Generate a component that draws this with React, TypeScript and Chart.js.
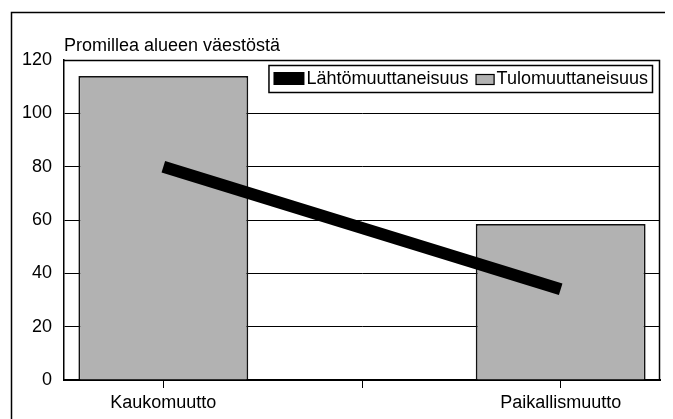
import { useEffect, useRef } from 'react';
import { Chart, registerables } from 'chart.js';

Chart.register(...registerables);

const categories = ['Kaukomuutto', '', 'Paikallismuutto'];
const tuloValues = [114, null, 58.5];
const lahtoValues = [80, null, 34];
const yTicks = [0, 20, 40, 60, 80, 100, 120];
const yTitle = 'Promillea alueen väestöstä';
const seriesNames = ['Lähtömuuttaneisuus', 'Tulomuuttaneisuus'];

const FONT = '"Liberation Sans", Arial, sans-serif';
const FS = 18;
const BAR_GRAY = '#b2b2b2';

const decor = {
  id: 'decor',
  beforeDraw(chart: any) {
    const { ctx, width, height } = chart;
    ctx.save();
    ctx.fillStyle = '#fff';
    ctx.fillRect(0, 0, width, height);
    ctx.strokeStyle = '#000';
    ctx.lineWidth = 1.5;
    ctx.beginPath();
    ctx.moveTo(3.5, height);
    ctx.lineTo(3.5, 4.5);
    ctx.lineTo(width, 4.5);
    ctx.stroke();
    ctx.restore();
  },
  afterDraw(chart: any) {
    const { ctx, chartArea: a } = chart;
    ctx.save();
    ctx.strokeStyle = '#000';
    ctx.lineWidth = 1.5;
    ctx.beginPath();
    ctx.moveTo(a.left, a.top + 0.5);
    ctx.lineTo(a.right - 0.5, a.top + 0.5);
    ctx.lineTo(a.right - 0.5, a.bottom);
    ctx.stroke();

    ctx.font = `${FS}px ${FONT}`;
    ctx.fillStyle = '#000';
    ctx.textBaseline = 'middle';
    ctx.textAlign = 'left';
    ctx.fillText(yTitle, a.left, a.top - 14);

    const w1 = ctx.measureText(seriesNames[0]).width;
    const w2 = ctx.measureText(seriesNames[1]).width;
    const total = 5 + 31 + 2 + w1 + 7 + 19 + 2 + w2 + 5;
    const right = a.right - 7;
    const left = right - total;
    const top = a.top + 5;
    const h = 28;
    ctx.fillStyle = '#fff';
    ctx.fillRect(left, top, total, h);
    ctx.lineWidth = 1.5;
    ctx.strokeStyle = '#000';
    ctx.strokeRect(left + 0.5, top + 0.5, total - 1, h - 1);
    let x = left + 5;
    ctx.fillStyle = '#000';
    ctx.fillRect(x, top + 7, 31, 13);
    x += 31 + 2;
    ctx.fillText(seriesNames[0], x, top + h / 2 + 0.5);
    x += w1 + 7;
    ctx.fillStyle = BAR_GRAY;
    ctx.fillRect(x, top + 9, 19, 11);
    ctx.lineWidth = 1.2;
    ctx.strokeRect(x + 0.5, top + 9.5, 18, 10);
    x += 19 + 2;
    ctx.fillStyle = '#000';
    ctx.fillText(seriesNames[1], x, top + h / 2 + 0.5);
    ctx.restore();
  },
};

export default function App() {
  const ref = useRef<HTMLCanvasElement | null>(null);
  useEffect(() => {
    if (!ref.current) return;
    const chart = new Chart(ref.current, {
      type: 'bar',
      data: {
        labels: categories,
        datasets: [
          {
            type: 'line',
            label: seriesNames[0],
            data: lahtoValues as any,
            borderColor: '#000',
            backgroundColor: '#000',
            borderWidth: 12,
            pointRadius: 0,
            spanGaps: true,
            tension: 0,
            borderCapStyle: 'butt',
            order: 0,
          } as any,
          {
            type: 'bar',
            label: seriesNames[1],
            data: tuloValues as any,
            backgroundColor: BAR_GRAY,
            borderColor: '#111',
            borderWidth: 1.8,
            categoryPercentage: 1,
            barPercentage: 0.855,
            order: 1,
          } as any,
        ],
      },
      options: {
        responsive: false,
        maintainAspectRatio: false,
        animation: false,
        layout: { padding: { top: 52, right: 13, left: 0, bottom: 0 } },
        plugins: {
          legend: { display: false },
          tooltip: { enabled: false },
          title: { display: false },
        },
        scales: {
          x: {
            grid: {
              offset: false,
              drawOnChartArea: false,
              drawTicks: true,
              tickLength: 8,
              color: '#000',
              lineWidth: 1,
            },
            border: { color: '#000', width: 2 },
            ticks: {
              color: '#000',
              font: { family: FONT, size: FS },
              padding: 4,
              maxRotation: 0,
              autoSkip: false,
            },
            afterFit(s: any) {
              s.height = 39;
            },
          },
          y: {
            min: 0,
            max: 120,
            afterBuildTicks(s: any) {
              s.ticks = yTicks.map((v) => ({ value: v }));
            },
            ticks: {
              color: '#000',
              font: { family: FONT, size: FS },
              padding: 12,
            },
            grid: { color: '#000', lineWidth: 1, drawTicks: false },
            border: { color: '#000', width: 1.5 },
            afterFit(s: any) {
              s.width = 56;
            },
          },
        },
      } as any,
      plugins: [decor],
    });
    return () => chart.destroy();
  }, []);
  return (
    <canvas
      ref={ref}
      width={665}
      height={411}
      style={{ display: 'block', width: 665, height: 411 }}
    />
  );
}
